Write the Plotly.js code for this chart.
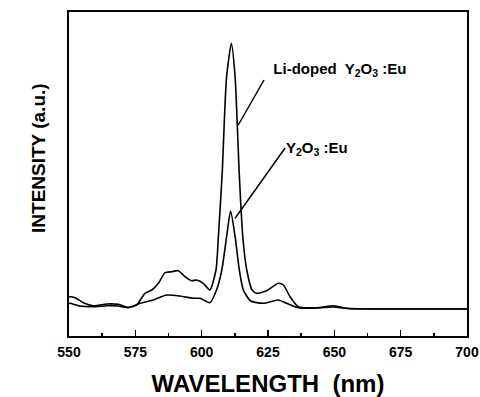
<!DOCTYPE html>
<html>
<head>
<meta charset="utf-8">
<script src="https://cdn.plot.ly/plotly-3.0.1.min.js"></script>
<style>html,body{margin:0;padding:0;background:#fff;}#chart{width:480px;height:397px;}</style>
</head>
<body>
<div id="chart"></div>
<script>
// Li-doped Y2O3:Eu spectrum (wavelength nm, intensity a.u.)
const liWavelength = [550, 550.4, 552.3, 555.4, 559.2, 564.2, 568.6, 572.4, 575.5, 578.6, 581.2, 583.7, 586.2, 588.7, 591.2, 593.7, 596.2, 598.1, 600.6, 603.1, 605.4, 606.3, 607.8, 608.5, 609.4, 611.2, 612.6, 613.4, 614.1, 615.5, 617.0, 619.0, 620.7, 624.5, 628.9, 630.8, 633.3, 636.4, 643.4, 649.6, 654.7, 668.5, 685, 700];
const liIntensity  = [39, 39.3, 38.3, 33.3, 30.3, 32, 31.7, 28.7, 31, 42.7, 46, 52.7, 63.3, 64.3, 65.3, 59.3, 55.3, 56, 52.7, 46, 66, 99.3, 166, 212.7, 259.3, 292.7, 259.3, 212.7, 166, 99.3, 66, 46, 42.7, 45.3, 52.7, 51, 39.3, 29.3, 28.3, 30.3, 27.7, 27, 27, 27];
// Y2O3:Eu spectrum
const yWavelength = [550, 550.4, 554.1, 559.2, 564.2, 568.6, 572.4, 576.8, 581.8, 586.8, 591.8, 596.9, 599.4, 603.1, 605.6, 607.6, 609.4, 610.9, 612.6, 614.2, 615.7, 618.5, 623.2, 628.9, 632.0, 636.4, 643.4, 649.6, 654.7, 668.5, 685, 700];
const yIntensity  = [32.5, 32.7, 30, 29.3, 30.3, 30, 28.3, 32.7, 36, 41, 40, 37.7, 37.7, 33.3, 46, 66, 99.3, 125, 99.3, 66, 46, 35, 32.7, 36, 32.7, 28.3, 28, 29, 27.5, 27, 27, 27];
const xTicks = [550, 575, 600, 625, 650, 675, 700];
const labelLi = 'Li-doped  Y<sub>2</sub>O<sub>3</sub> :Eu';
const labelY = 'Y<sub>2</sub>O<sub>3</sub> :Eu';

const font = 'Liberation Sans, Arial, sans-serif';
const traces = [
  {x: liWavelength, y: liIntensity, mode: 'lines', line: {color: '#000', width: 1.6, shape: 'spline', smoothing: 0.6}, hoverinfo: 'skip'},
  {x: yWavelength, y: yIntensity, mode: 'lines', line: {color: '#000', width: 1.6, shape: 'spline', smoothing: 0.6}, hoverinfo: 'skip'}
];
const layout = {
  width: 480, height: 397,
  margin: {l: 69, r: 13, t: 12, b: 61},
  paper_bgcolor: '#fff', plot_bgcolor: '#fff',
  showlegend: false,
  font: {family: font, color: '#000'},
  xaxis: {
    range: [550, 700], tickvals: xTicks, ticktext: xTicks.map(v => '<b>' + v + '</b>'),
    ticks: 'inside', ticklen: 6, tickwidth: 1.5, tickcolor: '#000', ticklabelstandoff: 2,
    minor: {dtick: 12.5, tick0: 550, ticks: 'inside', ticklen: 3.5, tickwidth: 1.5, tickcolor: '#000', showgrid: false},
    showline: true, linecolor: '#000', linewidth: 2, mirror: true,
    showgrid: false, zeroline: false,
    tickfont: {family: font, size: 14, color: '#000'},
    title: {text: '<b>WAVELENGTH  (nm)</b>', font: {family: font, size: 24, color: '#000'}, standoff: 23}
  },
  yaxis: {
    range: [0, 324], showticklabels: false, ticks: '',
    showline: true, linecolor: '#000', linewidth: 2, mirror: true,
    showgrid: false, zeroline: false
  },
  annotations: [
    {xref: 'paper', yref: 'paper', x: -0.075, y: 0.55, text: '<b>INTENSITY (a.u.)</b>', textangle: -90, showarrow: false, font: {family: font, size: 19, color: '#000'}, xanchor: 'center', yanchor: 'middle'},
    {x: 613.8, y: 211, text: '<b>&nbsp;&nbsp;' + labelLi + '</b>', showarrow: true, arrowhead: 0, arrowwidth: 1.5, arrowcolor: '#000', ax: 25.7, ay: -45, standoff: 0, xanchor: 'left', yanchor: 'bottom', borderpad: 0, font: {family: font, size: 15, color: '#000'}},
    {x: 612.6, y: 117.7, text: '<b>' + labelY + '</b>', showarrow: true, arrowhead: 0, arrowwidth: 1.5, arrowcolor: '#000', ax: 50, ay: -70.3, standoff: 0, xanchor: 'left', yanchor: 'middle', borderpad: 0, font: {family: font, size: 15, color: '#000'}}
  ]
};
Plotly.newPlot('chart', traces, layout, {staticPlot: true, displayModeBar: false});
</script>
</body>
</html>
